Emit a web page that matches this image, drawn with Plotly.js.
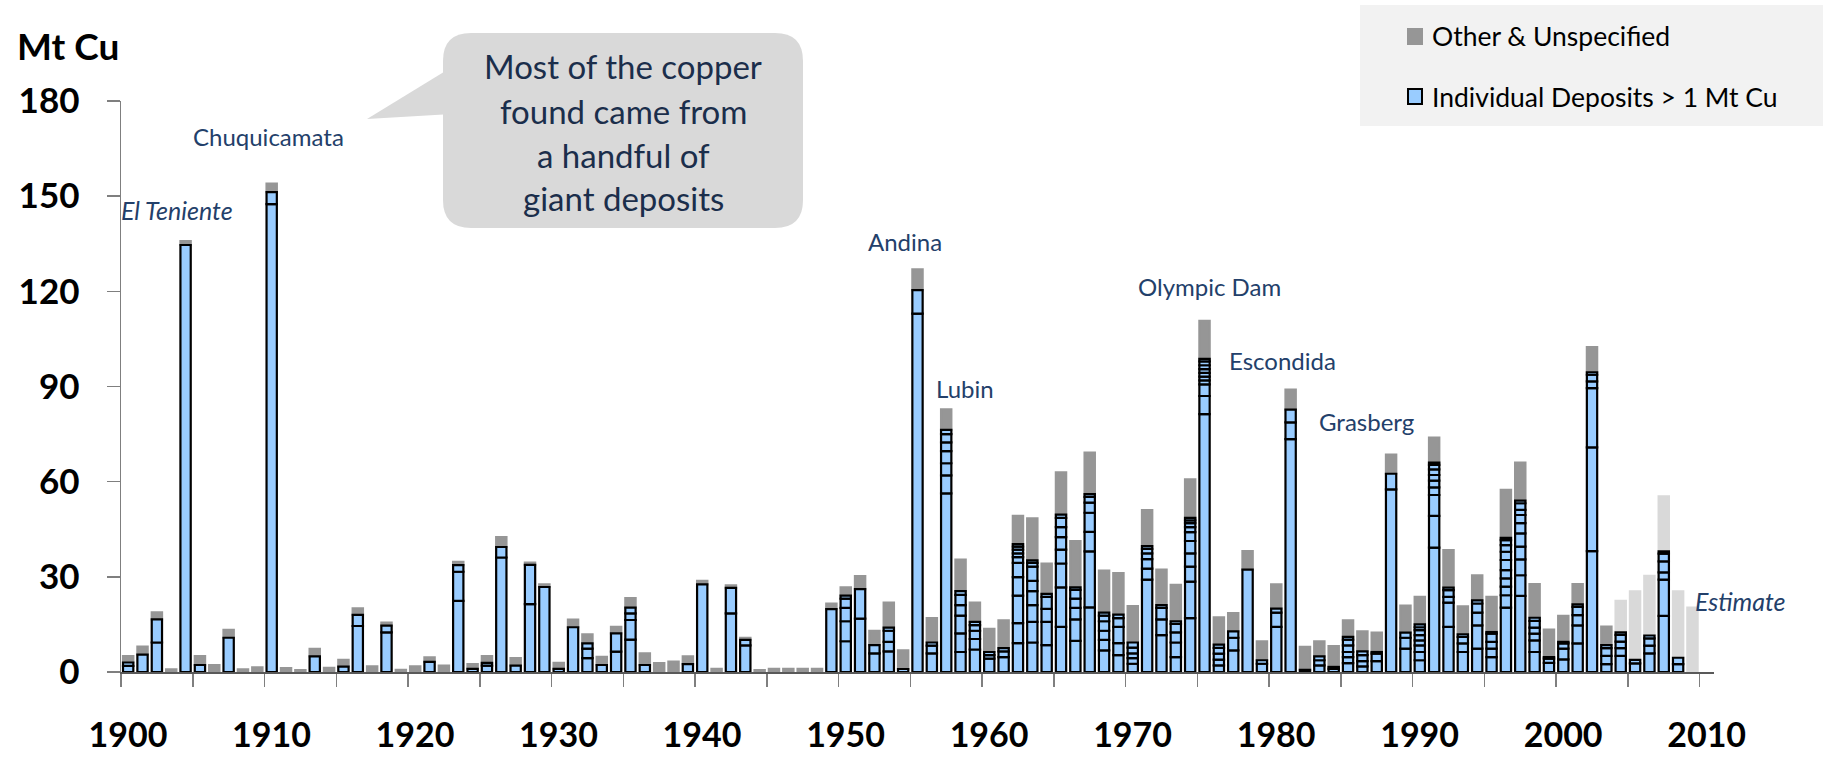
<!DOCTYPE html>
<html><head><meta charset="utf-8">
<script src="https://cdn.plot.ly/plotly-3.0.1.min.js"></script>
<style>html,body{margin:0;padding:0;background:#fff;}#chart{width:1823px;height:758px;}</style>
</head><body><div id="chart"></div>
<script>
// ---------- DATA ----------
const years = [
 1900,1901,1902,1903,1904,1905,1906,1907,1908,1909,
 1910,1911,1912,1913,1914,1915,1916,1917,1918,1919,
 1920,1921,1922,1923,1924,1925,1926,1927,1928,1929,
 1930,1931,1932,1933,1934,1935,1936,1937,1938,1939,
 1940,1941,1942,1943,1944,1945,1946,1947,1948,1949,
 1950,1951,1952,1953,1954,1955,1956,1957,1958,1959,
 1960,1961,1962,1963,1964,1965,1966,1967,1968,1969,
 1970,1971,1972,1973,1974,1975,1976,1977,1978,1979,
 1980,1981,1982,1983,1984,1985,1986,1987,1988,1989,
 1990,1991,1992,1993,1994,1995,1996,1997,1998,1999,
 2000,2001,2002,2003,2004,2005,2006,2007,2008,2009,
 2010];

// Individual deposits > 1 Mt Cu, per year, stacked bottom to top (Mt Cu)
const deposits = [
 [1.9,1.1],[5.5],[9.3,7.3],[],[134.6],[2.2],[],[10.8],[],[],
 [147.5,3.8],[],[],[4.9],[],[1.7],[14.5,3.5],[],[12.5,2.1],[],
 [],[3.2],[],[22.4,9.2,2.1],[1.0],[2.0,0.9],[36.1,3.3],[2.0],[21.4,12.4],[26.8],
 [1.0],[14.1],[4.4,3.0,1.65],[2.2],[6.4,5.8],[10.2,6.2,2.1,1.8],[2.2],[],[],[2.5],
 [27.6],[],[18.5,8.0],[8.4,1.7],[],[],[],[],[],[19.8],
 [9.7,6.3,4.2,2.9,1.0],[16.8,9.3],[5.9,2.6],[6.5,3.0,3.5,1.0],[0.95],[113.0,7.4],[5.9,2.4,1.0],
 [56.3,5.7,3.8,3.8,2.8,2.6,1.3],[6.3,5.9,5.6,3.3,3.2,1.2],[7.1,3.3,2.6,1.8,1.0],
 [4.2,1.1,1.0],[4.7,1.8,1.0],[9.1,6.3,8.7,5.8,4.5,1.8,1.2,1.2,0.9,0.8],[9.3,6.5,5.3,4.4,3.2,4.5,1.2,0.8],
 [8.5,7.3,4.1,3.8,0.9],[14.2,12.5,7.5,4.4,3.9,3.2,2.9,1.0],[9.8,6.8,3.6,2.9,2.8,0.8],
 [20.4,17.6,6.2,6.0,3.2,1.8,0.9],[6.8,3.3,2.9,3.0,1.8,0.9],[5.3,3.8,5.1,2.8,1.1],
 [2.6,1.8,1.5,1.8,1.6],[29.1,3.5,3.0,1.8,1.4,0.9],[11.6,5.0,3.6,0.9],[4.7,4.6,3.2,2.7,0.8],
 [17.0,11.5,4.7,4.2,3.9,2.8,1.6,1.2,0.9,0.8],[81.3,5.7,3.7,1.2,1.2,1.2,1.2,1.2,1.2,0.8],
 [2.1,1.8,1.9,1.8,1.0],[6.8,4.0,2.0],[32.3],[2.6,1.1],
 [14.2,4.5,1.3],[73.4,5.3,4.0],[0.7],[2.1,1.6,1.2],[1.0,0.6],[2.8,1.9,1.6,2.1,1.8,0.9],
 [1.8,1.6,1.9,1.2],[3.4,2.4,0.5],[57.6,4.9],[7.4,3.4,1.6],
 [3.7,2.6,2.1,1.6,1.6,1.6,0.9,0.9],[39.2,10.0,6.6,2.4,2.1,1.8,1.8,1.4,0.7],[14.2,7.7,1.8,2.1,0.8],
 [6.3,2.7,2.1,0.8],[7.4,7.3,4.0,2.9,1.0],[4.7,2.7,2.1,2.6,0.5],
 [20.3,3.9,2.7,2.6,2.6,3.2,2.6,2.1,1.6,0.7],[24.0,6.5,5.0,4.0,4.2,3.2,2.6,1.6,2.1,0.8],
 [6.3,3.7,2.1,1.9,2.1,1.0],[2.9,1.3,0.5],
 [4.0,3.4,1.6,0.5],[9.0,5.7,3.2,2.6,0.8],[38.1,32.7,18.7,2.1,2.1,0.8],[2.5,2.6,2.4,1.0],
 [5.1,2.4,2.1,2.1,0.8],[2.7,1.1],[5.9,2.4,2.3,0.9],[17.7,11.4,2.3,3.5,2.4,0.7],[2.5,2.0],[],
 []];

// Other & Unspecified (Mt Cu)
const other = [
 2.0,2.5,2.2,0.8,1.2,2.8,2.2,2.5,0.8,1.5,
 2.7,1.2,0.6,2.4,1.3,2.1,2.1,1.8,1.0,0.7,
 1.8,1.4,2.0,1.0,1.5,2.1,3.1,2.4,0.7,0.8,
 1.9,2.4,2.85,2.6,2.0,3.0,3.7,2.8,3.3,2.4,
 1.1,1.0,0.8,0.7,0.6,1.0,1.0,1.0,1.0,1.8,
 2.6,4.1,4.5,7.9,5.85,6.5,7.7,6.5,9.9,6.1,
 7.3,8.8,8.9,13.2,9.6,13.3,14.6,13.1,13.3,13.1,
 11.5,11.3,11.2,11.5,12.1,12.0,8.6,5.8,5.8,6.0,
 7.6,6.3,7.2,4.8,6.6,5.2,6.3,6.1,6.0,8.5,
 8.7,7.9,11.8,8.8,7.9,11.1,15.1,12.0,10.6,8.7,
 8.2,6.4,7.9,5.8,null,null,null,null,null,null,
 null];

// Estimate of not-yet-reported discoveries (Mt Cu)
const estimate = [
 null,null,null,null,null,null,null,null,null,null,
 null,null,null,null,null,null,null,null,null,null,
 null,null,null,null,null,null,null,null,null,null,
 null,null,null,null,null,null,null,null,null,null,
 null,null,null,null,null,null,null,null,null,null,
 null,null,null,null,null,null,null,null,null,null,
 null,null,null,null,null,null,null,null,null,null,
 null,null,null,null,null,null,null,null,null,null,
 null,null,null,null,null,null,null,null,null,null,
 null,null,null,null,null,null,null,null,null,null,
 null,null,null,null,9.9,21.6,18.8,17.4,20.9,20.3,
 null];

const decadeLabels = ['1900','1910','1920','1930','1940','1950','1960','1970','1980','1990','2000','2010'];
const yTickValues = [0,30,60,90,120,150,180];

const deposit_labels = [
 {text:'Chuquicamata', x:268, y:136, italic:false},
 {text:'El Teniente',  x:177, y:210, italic:true},
 {text:'Andina',       x:905, y:242, italic:false},
 {text:'Lubin',        x:965, y:388, italic:false},
 {text:'Olympic Dam',  x:1209, y:286, italic:false},
 {text:'Escondida',    x:1282, y:360, italic:false},
 {text:'Grasberg',     x:1366, y:421, italic:false},
 {text:'Estimate',     x:1740, y:601, italic:true}
];
const calloutLines = ['Most of the copper','found came from','a handful of','giant deposits'];

// ---------- GEOMETRY ----------
const L = 121, T = 101, W = 1593, H = 571;
const fx = p => (p - L) / W;
const fy = p => (T + H - p) / H;
const LW = 2.2;
const BLUE = '#99ccff', GRAY = '#969696', LIGHT = '#d9d9d9', NAVY = '#23406a';

// ---------- TRACES ----------
const blueTotal = deposits.map(d => d.reduce((a, b) => a + b, 0));
const traces = [];
traces.push({type:'bar', x:years, y:other, base:blueTotal, name:'Other & Unspecified',
  marker:{color:GRAY, line:{color:GRAY, width:LW}}, hoverinfo:'skip'});
traces.push({type:'bar', x:years, y:estimate, base:blueTotal, name:'Estimate',
  marker:{color:LIGHT, line:{color:LIGHT, width:LW}}, hoverinfo:'skip'});
const maxLayers = Math.max(...deposits.map(d => d.length));
for (let i = 0; i < maxLayers; i++) {
  const y = deposits.map(d => i < d.length ? d[i] : null);
  const base = deposits.map(d => i < d.length ? d.slice(0, i).reduce((a, b) => a + b, 0) : null);
  traces.push({type:'bar', x:years, y:y, base:base, name:'Individual Deposits > 1 Mt Cu',
    marker:{color:BLUE, line:{color:'#000', width:LW}}, hoverinfo:'skip'});
}

// x ticks at category boundaries every 5 years; labels every 10 years
const xTickVals = [], xTickText = [];
decadeLabels.forEach((lab, k) => {
  const y0 = parseInt(lab, 10);
  xTickVals.push(y0 - 0.5); xTickText.push(lab);
  if (k < decadeLabels.length - 1) { xTickVals.push(y0 + 4.5); xTickText.push(''); }
});

// ---------- SHAPES & ANNOTATIONS ----------
function roundRect(x0, y0, x1, y1, r) {
  const P = (x, y) => fx(x).toFixed(5) + ',' + fy(y).toFixed(5);
  return 'M' + P(x0 + r, y0) + ' L' + P(x1 - r, y0) + ' Q' + P(x1, y0) + ' ' + P(x1, y0 + r) +
    ' L' + P(x1, y1 - r) + ' Q' + P(x1, y1) + ' ' + P(x1 - r, y1) +
    ' L' + P(x0 + r, y1) + ' Q' + P(x0, y1) + ' ' + P(x0, y1 - r) +
    ' L' + P(x0, y0 + r) + ' Q' + P(x0, y0) + ' ' + P(x0 + r, y0) + ' Z';
}
const shapes = [
  {type:'path', xref:'paper', yref:'paper', path:roundRect(443, 33, 803, 228, 28),
   fillcolor:LIGHT, line:{width:0}, layer:'above'},
  {type:'path', xref:'paper', yref:'paper',
   path:'M' + fx(452) + ',' + fy(67) + ' L' + fx(367) + ',' + fy(119) + ' L' + fx(452) + ',' + fy(114) + ' Z',
   fillcolor:LIGHT, line:{width:0}, layer:'above'},
  {type:'rect', xref:'paper', yref:'paper', x0:fx(1360), x1:fx(1823), y0:fy(5), y1:fy(126),
   fillcolor:'#f2f2f2', line:{width:0}, layer:'above'},
  {type:'rect', xref:'paper', yref:'paper', x0:fx(1407), x1:fx(1423), y0:fy(28), y1:fy(45),
   fillcolor:GRAY, line:{width:0}, layer:'above'},
  {type:'rect', xref:'paper', yref:'paper', x0:fx(1408), x1:fx(1422), y0:fy(89), y1:fy(104),
   fillcolor:BLUE, line:{color:'#000', width:2}, layer:'above'}
];

const annotations = [];
annotations.push({xref:'paper', yref:'paper', x:fx(15), y:fy(45), xanchor:'left', yanchor:'middle',
  text:'<b>Mt Cu</b>', showarrow:false, font:{family:'Lato', size:37, color:'#000'}});
deposit_labels.forEach(a => annotations.push({xref:'paper', yref:'paper', x:fx(a.x), y:fy(a.y),
  xanchor:'center', yanchor:'middle', showarrow:false,
  text: a.italic ? '<i>' + a.text + '</i>' : a.text,
  font:{family:'Lato', size:a.italic ? 25 : 24, color:NAVY}}));
const calloutY = [66, 111, 155, 198];
calloutLines.forEach((t, k) => annotations.push({xref:'paper', yref:'paper', x:fx(623), y:fy(calloutY[k]),
  xanchor:'center', yanchor:'middle', showarrow:false, text:t,
  font:{family:'Lato', size:33, color:'#1b2e4b'}}));
annotations.push({xref:'paper', yref:'paper', x:fx(1430), y:fy(36.5), xanchor:'left', yanchor:'middle',
  showarrow:false, text:'Other & Unspecified', font:{family:'Lato', size:26.5, color:'#000'}});
annotations.push({xref:'paper', yref:'paper', x:fx(1430), y:fy(96.5), xanchor:'left', yanchor:'middle',
  showarrow:false, text:'Individual Deposits &gt; 1 Mt Cu', font:{family:'Lato', size:26.5, color:'#000'}});

const layout = {
  width:1823, height:758,
  margin:{l:L, r:1823 - L - W, t:T, b:758 - T - H, pad:0},
  paper_bgcolor:'#fff', plot_bgcolor:'#fff',
  barmode:'overlay', bargap:0.282, showlegend:false, hovermode:false,
  xaxis:{range:[1899.5, 2010.5], tickmode:'array', tickvals:xTickVals, ticktext:xTickText,
    ticks:'outside', ticklen:13, tickwidth:1.5, tickcolor:'#7f7f7f', ticklabelshift:7,
    ticklabelstandoff:20,
    showline:true, linecolor:'#595959', linewidth:1.5, showgrid:false, zeroline:false,
    tickfont:{family:'Lato', size:34, color:'#000', weight:700}, fixedrange:true},
  yaxis:{range:[0, 180], tickmode:'array', tickvals:yTickValues, ticks:'outside', ticklen:13,
    tickwidth:1.5, tickcolor:'#7f7f7f', showline:true, linecolor:'#7f7f7f', linewidth:1.5,
    showgrid:false, zeroline:false, ticklabelstandoff:20,
    tickfont:{family:'Lato', size:35, color:'#000', weight:700}, fixedrange:true},
  shapes:shapes, annotations:annotations
};

Plotly.newPlot('chart', traces, layout, {displayModeBar:false, staticPlot:true});
</script>
</body></html>
